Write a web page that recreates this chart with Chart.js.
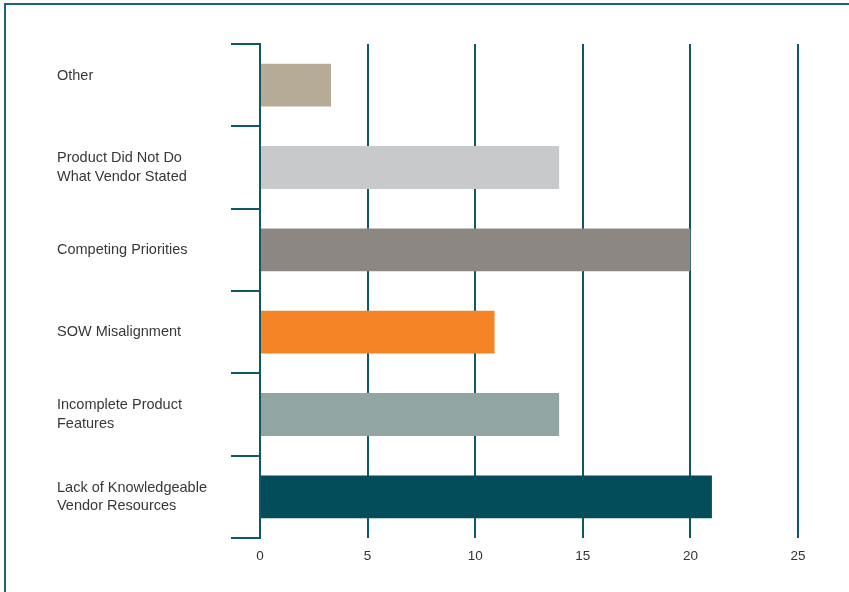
<!DOCTYPE html>
<html>
<head>
<meta charset="utf-8">
<script src="https://cdn.jsdelivr.net/npm/chart.js@4"></script>
<style>
  html, body { margin: 0; padding: 0; background: #fff; width: 849px; height: 592px; overflow: hidden; }
  #frame { position: absolute; left: 4px; top: 3px; width: 1000px; height: 1000px;
           border-top: 2px solid #1d6670; border-left: 2px solid #1d6670; }
  #wrap { position: absolute; left: 0; top: 0; width: 849px; height: 592px; }
</style>
</head>
<body>
<div id="frame"></div>
<div id="wrap"><canvas id="c" width="849" height="592"></canvas></div>
<script>
const categories = [
  ["Other", ""],
  ["Product Did Not Do", "What Vendor Stated"],
  "Competing Priorities",
  "SOW Misalignment",
  ["Incomplete Product", "Features"],
  ["Lack of Knowledgeable", "Vendor Resources"]
];
const values = [3.3, 13.9, 20, 10.9, 13.9, 21];
const barColors = ["#b6ab96", "#c8c9cb", "#8c8782", "#f58426", "#91a5a3", "#024d59"];
const xTicks = [0, 5, 10, 15, 20, 25];

const teal = "#0e5a64";
const family = "'Liberation Sans', Arial, Helvetica, sans-serif";

new Chart(document.getElementById("c"), {
  type: "bar",
  data: {
    labels: categories,
    datasets: [{
      data: values,
      backgroundColor: barColors,
      borderWidth: 0,
      barPercentage: 0.52,
      categoryPercentage: 1
    }]
  },
  options: {
    indexAxis: "y",
    responsive: false,
    animation: false,
    layout: { padding: { left: 57, top: 44, right: 51, bottom: 0 } },
    plugins: { legend: { display: false }, tooltip: { enabled: false } },
    scales: {
      x: {
        min: 0, max: 25,
        afterBuildTicks: (s) => { s.ticks = xTicks.map(v => ({ value: v })); },
        afterFit: (s) => { s.height = 54; },
        grid: { color: teal, lineWidth: 2, drawTicks: false },
        border: { display: false },
        ticks: { font: { family: family, size: 13.5 }, color: "#333", padding: 10 }
      },
      y: {
        afterFit: (s) => { s.width = 203; },
        grid: { offset: true, drawOnChartArea: false, color: teal, lineWidth: 2, tickLength: 29 },
        border: { display: true, color: teal, width: 2 },
        ticks: { font: { family: family, size: 14.5, lineHeight: 1.25 }, color: "#383838", crossAlign: "far", padding: 6 }
      }
    }
  }
});
</script>
</body>
</html>
